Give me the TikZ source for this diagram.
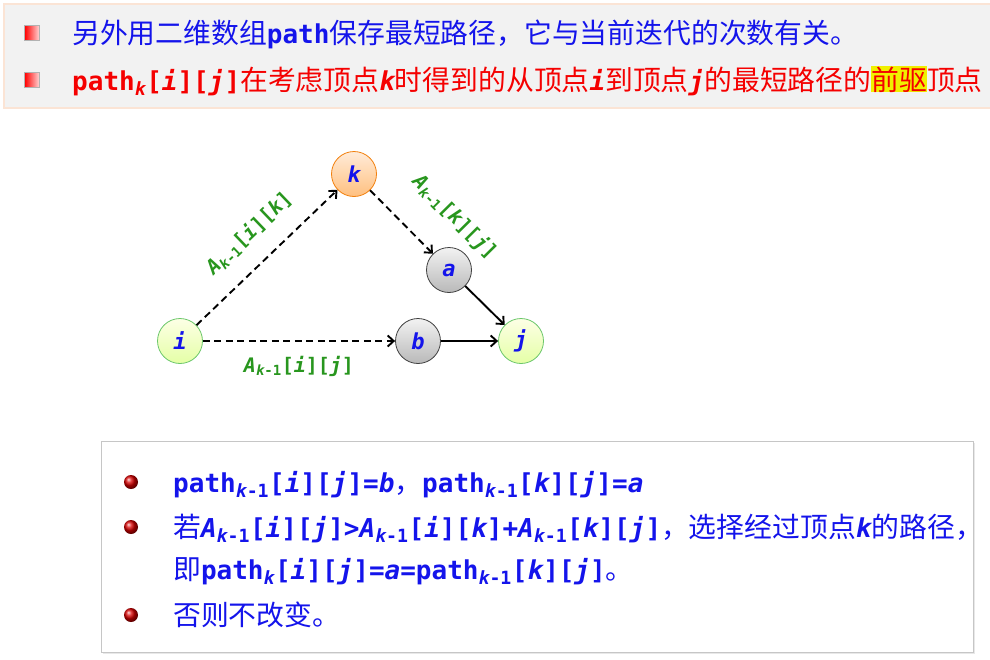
\documentclass[tikz,border=0pt]{standalone}
\usepackage{fontspec}
\setmainfont{DejaVu Sans Mono}
\newfontfamily\cjk{Noto Sans CJK SC}[Scale=1.07]
\usetikzlibrary{arrows.meta, positioning, shadows}
\definecolor{txtblue}{RGB}{20,20,235}
\definecolor{txtred}{RGB}{245,0,0}
\definecolor{lblgreen}{RGB}{40,150,30}
\definecolor{hlyellow}{RGB}{240,240,0}
\definecolor{boxpeach}{RGB}{251,228,213}
\definecolor{boxgray}{RGB}{242,242,242}
\newcommand\cn[1]{{\cjk\mdseries #1}}
\newcommand\vi[1]{{\itshape #1}}
\newcommand\sk{\textsubscript{\itshape k}}
\newcommand\skm{\textsubscript{\itshape k\upshape -1}}
\tikzset{
  vertex/.style={
    circle, minimum size=45pt, inner sep=0pt, line width=0.8pt,
    font=\fontsize{22}{26}\selectfont\bfseries\itshape, text=txtblue
  },
  endvertex/.style={vertex, draw=green!45!gray!80, top color=green!8!yellow!10, bottom color=green!30!yellow!35},
  midvertex/.style={vertex, draw=orange!80!brown, top color=orange!15, bottom color=orange!50},
  passvertex/.style={vertex, draw=black!75, top color=gray!10, bottom color=gray!55},
  dasharrow/.style={-{Straight Barb[length=6pt,width=11pt]}, line width=1.9pt, dash pattern=on 7pt off 4.5pt},
  solidarrow/.style={-{Straight Barb[length=6pt,width=11pt]}, line width=1.9pt},
  elabel/.style={font=\fontsize{20}{24}\selectfont\bfseries, text=lblgreen, sloped, inner sep=1pt},
  textline/.style={anchor=base west, inner sep=0pt, font=\fontsize{26}{32}\selectfont\bfseries},
  squarebullet/.style={rectangle, minimum size=15pt, inner sep=0pt, draw=gray!60, left color=red, right color=red!15},
  ballbullet/.style={circle, minimum size=14pt, inner sep=0pt, ball color=red!85!black},
}
\begin{document}
\begin{tikzpicture}[x=1pt, y=-1pt]
    \useasboundingbox (0,0) rectangle (990,659);

    %% Top frame
    \draw[draw=boxpeach, fill=boxgray, line width=2.5pt] (4,4) rectangle (1010,108);
    \node[squarebullet] (sq1) at (32,33) {};
    \node[squarebullet] (sq2) at (32,80) {};
    \node[textline, text=txtblue] (top1) at (72,43)
      {\cn{另外用二维数组}path\cn{保存最短路径，它与当前迭代的次数有关。}};
    \node[textline, text=txtred] (top2) at (72,90)
      {path\sk[\vi{i}][\vi{j}]\cn{在考虑顶点}\vi{k}\cn{时得到的从顶点}\vi{i}\cn{到顶点}\vi{j}\cn{的最短路径的}{\fboxsep=0pt\colorbox{hlyellow}{\cn{前驱}}}\cn{顶点}};

    %% Graph
    \node[endvertex] (i) at (180,341) {i};
    \node[midvertex] (k) at (354,174) {k};
    \node[passvertex] (a) at (449,270) {a};
    \node[passvertex] (b) at (418,341) {b};
    \node[endvertex] (j) at (521,341) {j};

    \draw[dasharrow] (i) -- node[elabel, above=18pt, pos=0.52] (lik) {\vi{A}\skm[\vi{i}][\vi{k}]} (k);
    \draw[dasharrow] (k) -- node[elabel, above=29pt, pos=0.88] (lkj) {\vi{A}\skm[\vi{k}][\vi{j}]} (a);
    \draw[dasharrow] (i) -- node[elabel, below=13pt, pos=0.5] (lij) {\vi{A}\skm[\vi{i}][\vi{j}]} (b);
    \draw[solidarrow] (a) -- (j);
    \draw[solidarrow] (b) -- (j);

    %% Bottom frame
    \draw[draw=gray!45, fill=white, line width=1pt,
      drop shadow={shadow xshift=2pt, shadow yshift=-2pt, fill=gray!35}] (101,441) rectangle (973,652);
    \node[ballbullet] (bb1) at (131,482) {};
    \node[ballbullet] (bb2) at (131,527) {};
    \node[ballbullet] (bb3) at (131,615) {};
    \node[textline, text=txtblue] (bot1) at (173,492)
      {path\skm[\vi{i}][\vi{j}]=\vi{b}\cn{，}path\skm[\vi{k}][\vi{j}]=\vi{a}};
    \node[textline, text=txtblue] (bot2) at (173,537)
      {\cn{若}\vi{A}\skm[\vi{i}][\vi{j}]>\vi{A}\skm[\vi{i}][\vi{k}]+\vi{A}\skm[\vi{k}][\vi{j}]\cn{，选择经过顶点}\vi{k}\cn{的路径，}};
    \node[textline, text=txtblue] (bot3) at (173,579)
      {\cn{即}path\sk[\vi{i}][\vi{j}]=\vi{a}=path\skm[\vi{k}][\vi{j}]\cn{。}};
    \node[textline, text=txtblue] (bot4) at (173,625)
      {\cn{否则不改变。}};
\end{tikzpicture}
\end{document}
